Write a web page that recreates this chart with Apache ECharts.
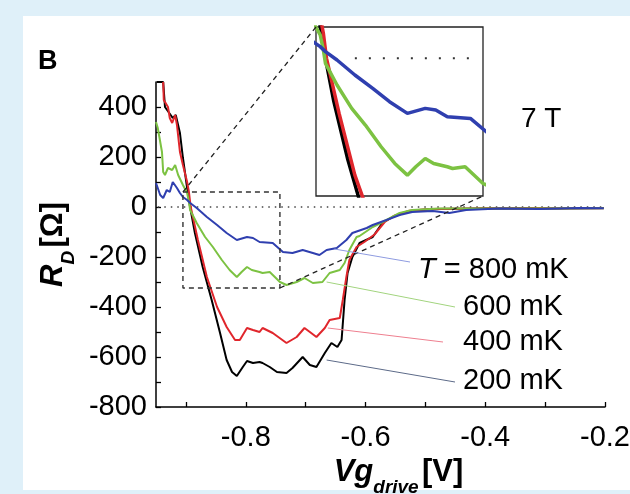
<!DOCTYPE html>
<html>
<head>
<meta charset="utf-8">
<script src="https://cdn.jsdelivr.net/npm/echarts@6/dist/echarts.min.js"></script>
<style>
html, body { margin: 0; padding: 0; background: #dff0f9; }
#panel { position: absolute; left: 23px; top: 16px; width: 607px; height: 474px; background: #fff; }
#chart { position: absolute; left: 0; top: 0; width: 630px; height: 494px; }
</style>
</head>
<body>
<div id="panel"></div>
<div id="chart"></div>
<script>
// gate voltage (V) and R_D (ohm), one pair of arrays per temperature
const vg200 = [-0.949,-0.938,-0.935,-0.922,-0.917,-0.910,-0.905,-0.898,-0.893,-0.885,-0.872,-0.857,-0.843,-0.832,-0.823,-0.815,-0.805,-0.798,-0.788,-0.777,-0.772,-0.760,-0.748,-0.732,-0.722,-0.705,-0.693,-0.682,-0.668,-0.657,-0.647,-0.640,-0.635,-0.630,-0.622,-0.610,-0.588,-0.572,-0.555,-0.532,-0.510,-0.477,-0.410,-0.343,-0.277,-0.202];
const rd200 = [500,500,400,356,368,296,196,76,0,-104,-240,-372,-504,-612,-660,-676,-640,-616,-624,-620,-624,-640,-660,-664,-644,-600,-632,-640,-584,-544,-560,-532,-372,-264,-200,-144,-120,-64,-40,-20,-12,-8,-6,-5,-6,-4];

const vg400 = [-0.938,-0.937,-0.930,-0.927,-0.923,-0.918,-0.915,-0.910,-0.905,-0.898,-0.895,-0.892,-0.880,-0.865,-0.848,-0.832,-0.818,-0.810,-0.798,-0.788,-0.777,-0.772,-0.755,-0.732,-0.715,-0.702,-0.693,-0.682,-0.668,-0.660,-0.643,-0.638,-0.632,-0.627,-0.615,-0.602,-0.585,-0.568,-0.552,-0.527,-0.493,-0.410,-0.310,-0.202];
const rd400 = [500,428,400,356,336,368,328,220,168,100,60,0,-132,-280,-400,-480,-532,-532,-484,-492,-500,-484,-504,-544,-520,-484,-500,-520,-484,-452,-444,-372,-280,-212,-160,-140,-110,-60,-35,-15,-8,-6,-5,-5];

const vg600 = [-0.950,-0.947,-0.940,-0.938,-0.935,-0.930,-0.923,-0.918,-0.913,-0.905,-0.898,-0.895,-0.893,-0.882,-0.868,-0.855,-0.840,-0.827,-0.815,-0.807,-0.798,-0.790,-0.777,-0.772,-0.760,-0.743,-0.732,-0.715,-0.702,-0.688,-0.672,-0.660,-0.643,-0.635,-0.627,-0.615,-0.610,-0.588,-0.565,-0.543,-0.522,-0.477,-0.377,-0.202];
const rd600 = [340,316,220,140,128,156,148,168,128,88,56,20,-12,-64,-120,-160,-212,-252,-280,-260,-240,-252,-260,-264,-260,-300,-312,-300,-284,-304,-300,-264,-252,-224,-172,-120,-116,-80,-52,-24,-12,-6,-6,-5];

const vg800 = [-0.950,-0.943,-0.938,-0.932,-0.927,-0.922,-0.915,-0.910,-0.905,-0.898,-0.893,-0.882,-0.865,-0.848,-0.832,-0.815,-0.798,-0.788,-0.777,-0.755,-0.738,-0.722,-0.705,-0.688,-0.677,-0.665,-0.648,-0.632,-0.622,-0.598,-0.588,-0.565,-0.543,-0.522,-0.488,-0.460,-0.432,-0.377,-0.310,-0.243,-0.202];
const rd800 = [96,48,36,68,60,100,76,56,40,28,16,-4,-40,-72,-104,-132,-120,-124,-140,-144,-180,-184,-172,-184,-192,-172,-164,-132,-104,-84,-72,-52,-32,-20,-16,-24,-12,-6,-8,-4,-5];

const tempLabels = ['200 mK', '400 mK', '600 mK', '800 mK'];
const colors = ['#000000', '#e0262c', '#7cc242', '#2f3faf'];
const leaderColors = ['#5c6a88', '#ee7f8f', '#a2d47e', '#8e9be0'];

const xTicks = [-0.9, -0.8, -0.7, -0.6, -0.5, -0.4, -0.3, -0.2];
const xLabels = [-0.8, -0.6, -0.4, -0.2];
const yTicks = [-800, -700, -600, -500, -400, -300, -200, -100, 0, 100, 200, 300, 400];
const yLabels = [-800, -600, -400, -200, 0, 200, 400];

// dashed zoom box on main plot, and the range shown in the inset
const zoomBoxVg = [-0.905, -0.743];
const zoomBoxR = [-324, 60];
const insetVg = [-0.902, -0.743];
const insetR = [-330, 75];
const insetZeroVg = [-0.865, -0.755];

// where the leader lines leave each curve (data coords)
const leaderFrom = [[-0.665, -612], [-0.663, -484], [-0.665, -300], [-0.652, -168]];

const FONT = 'Liberation Sans, Arial, sans-serif';

const chart = echarts.init(document.getElementById('chart'), null, { renderer: 'canvas' });

const pairs = (xs, ys) => xs.map((x, i) => [x, ys[i]]);
const curves = [pairs(vg200, rd200), pairs(vg400, rd400), pairs(vg600, rd600), pairs(vg800, rd800)];

const series = [];
curves.forEach((d, i) => {
  series.push({
    type: 'line', data: d, symbol: 'none', silent: true, z: 3 + i,
    lineStyle: { color: colors[i], width: 2 }
  });
});
curves.forEach((d, i) => {
  series.push({
    type: 'line', data: d, symbol: 'none', silent: true, z: 3 + i,
    xAxisIndex: 1, yAxisIndex: 1,
    lineStyle: { color: colors[i], width: 3.5 }
  });
});
// zero reference lines
series.push({
  type: 'line', data: [[-0.947, 0], [-0.2, 0]], symbol: 'none', silent: true, z: 2,
  lineStyle: { color: '#444', width: 1.3, type: [1.5, 5] }
});
series.push({
  type: 'line', data: insetZeroVg.map(v => [v, 0]), symbol: 'none', silent: true, z: 2,
  xAxisIndex: 1, yAxisIndex: 1,
  lineStyle: { color: '#333', width: 2, type: [2, 12] }
});
// dashed zoom box
series.push({
  type: 'line', symbol: 'none', silent: true, z: 8,
  data: [[zoomBoxVg[0], zoomBoxR[1]], [zoomBoxVg[1], zoomBoxR[1]], [zoomBoxVg[1], zoomBoxR[0]],
         [zoomBoxVg[0], zoomBoxR[0]], [zoomBoxVg[0], zoomBoxR[1]]],
  lineStyle: { color: '#333', width: 1.4, type: [5, 4] }
});

const nameRich = {
  it: { fontFamily: FONT, fontSize: 31, fontWeight: 'bold', fontStyle: 'italic', color: '#000', lineHeight: 34, verticalAlign: 'top' },
  sub: { fontFamily: FONT, fontSize: 19, fontWeight: 'bold', fontStyle: 'italic', color: '#000', lineHeight: 40, verticalAlign: 'bottom' },
  br: { fontFamily: FONT, fontSize: 31, fontWeight: 'bold', color: '#000', lineHeight: 34, verticalAlign: 'top' }
};

chart.setOption({
  animation: false,
  grid: [
    { left: 156, right: 25, top: 82, bottom: 87, outerBoundsMode: 'none', containLabel: false },
    { left: 316, top: 27, width: 167, height: 169, outerBoundsMode: 'none', show: true,
      borderColor: '#222', borderWidth: 1.3, backgroundColor: '#fff', z: 1 }
  ],
  xAxis: [
    {
      type: 'value', min: -0.95, max: -0.2, gridIndex: 0,
      axisLine: { onZero: false, lineStyle: { color: '#000', width: 1.5 } },
      axisTick: { inside: true, length: 5, customValues: xTicks, lineStyle: { color: '#000', width: 1.3 } },
      axisLabel: { customValues: xLabels, fontFamily: FONT, fontSize: 29, color: '#000', margin: 16,
        formatter: v => v.toFixed(1) },
      splitLine: { show: false },
      name: '{it|Vg}{sub|drive} {br|[V]}', nameLocation: 'middle', nameGap: 39,
      nameTextStyle: { rich: nameRich, padding: [0, 0, 0, 36] }
    },
    { type: 'value', min: insetVg[0], max: insetVg[1], gridIndex: 1, show: false }
  ],
  yAxis: [
    {
      type: 'value', min: -800, max: 500, gridIndex: 0,
      axisLine: { onZero: false, lineStyle: { color: '#000', width: 1.5 } },
      axisTick: { inside: true, length: 5, customValues: yTicks, lineStyle: { color: '#000', width: 1.3 } },
      axisLabel: { customValues: yLabels, fontFamily: FONT, fontSize: 29, color: '#000', margin: 9 },
      splitLine: { show: false },
      name: '{it|R}{sub|D} {br|[Ω]}', nameLocation: 'middle', nameRotate: 90, nameGap: 78,
      nameTextStyle: { rich: nameRich }
    },
    { type: 'value', min: insetR[0], max: insetR[1], gridIndex: 1, show: false }
  ],
  series
});

// pieces that link plot positions to free-floating text
const toPx = (g, p) => chart.convertToPixel({ gridIndex: g }, p);
const boxTL = toPx(0, [zoomBoxVg[0], zoomBoxR[1]]);
const boxBR = toPx(0, [zoomBoxVg[1], zoomBoxR[0]]);
const insTL = toPx(1, [insetVg[0], insetR[1]]);
const insBR = toPx(1, [insetVg[1], insetR[0]]);

const labelPos = [[463, 381], [463, 342], [463, 307], [418, 270]];
const leaderTo = [[455, 382], [443, 342], [455, 307], [410, 262]];

const graphic = [
  { type: 'line', z: 9, shape: { x1: boxTL[0], y1: boxTL[1], x2: insTL[0], y2: insTL[1] },
    style: { stroke: '#222', lineWidth: 1.3, lineDash: [5, 4] } },
  { type: 'line', z: 9, shape: { x1: boxBR[0], y1: boxBR[1], x2: insBR[0], y2: insBR[1] },
    style: { stroke: '#222', lineWidth: 1.3, lineDash: [5, 4] } },
  { type: 'text', left: 38, top: 48, style: { text: 'B', font: 'bold 27px ' + FONT, fill: '#000' } },
  { type: 'text', left: 521, top: 105, style: { text: '7 T', font: '28px ' + FONT, fill: '#000' } }
];
tempLabels.forEach((t, i) => {
  const from = toPx(0, leaderFrom[i]);
  graphic.push({ type: 'line', z: 9, shape: { x1: from[0], y1: from[1], x2: leaderTo[i][0], y2: leaderTo[i][1] },
    style: { stroke: leaderColors[i], lineWidth: 1 } });
  graphic.push({ type: 'text', x: labelPos[i][0], y: labelPos[i][1], z: 9,
    style: {
      text: i === 3 ? '{i|T} = ' + t : t,
      font: '29px ' + FONT, fill: '#000', verticalAlign: 'middle',
      rich: { i: { fontStyle: 'italic', fontFamily: FONT, fontSize: 29 } }
    } });
});
chart.setOption({ graphic });

window.addEventListener('resize', () => chart.resize());
</script>
</body>
</html>
